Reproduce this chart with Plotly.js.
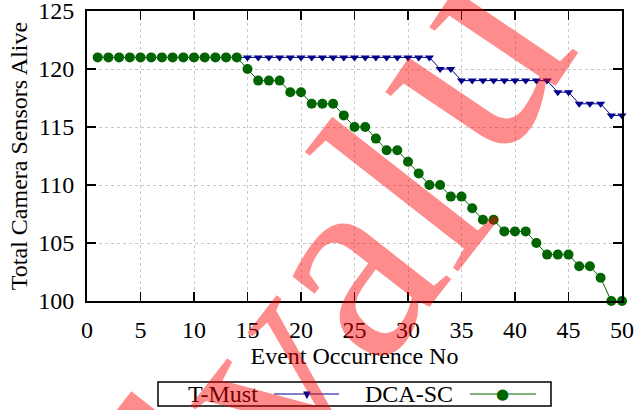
<!DOCTYPE html>
<html>
<head>
<meta charset="utf-8">
<script src="https://cdn.plot.ly/plotly-3.0.1.min.js"></script>
<style>
  html, body { margin: 0; padding: 0; background: #fff; }
  #chart { width: 639px; height: 410px; }
</style>
</head>
<body>
<div id="chart"></div>
<script>
// Event index (x) for both runs
const events = [1, 2, 3, 4, 5, 6, 7, 8, 9, 10,
                11, 12, 13, 14, 15, 16, 17, 18, 19, 20,
                21, 22, 23, 24, 25, 26, 27, 28, 29, 30,
                31, 32, 33, 34, 35, 36, 37, 38, 39, 40,
                41, 42, 43, 44, 45, 46, 47, 48, 49, 50];

// Camera sensors still alive after each event
const tMust = [121, 121, 121, 121, 121, 121, 121, 121, 121, 121,
               121, 121, 121, 121, 121, 121, 121, 121, 121, 121,
               121, 121, 121, 121, 121, 121, 121, 121, 121, 121,
               121, 121, 120, 120, 119, 119, 119, 119, 119, 119,
               119, 119, 119, 118, 118, 117, 117, 117, 116, 116];

const dcaSc = [121, 121, 121, 121, 121, 121, 121, 121, 121, 121,
               121, 121, 121, 121, 120, 119, 119, 119, 118, 118,
               117, 117, 117, 116, 115, 115, 114, 113, 113, 112,
               111, 110, 110, 109, 109, 108, 107, 107, 106, 106,
               106, 105, 104, 104, 104, 103, 103, 102, 100, 100];

const seriesNames = ['T-Must', 'DCA-SC'];
const xTicks = [0, 5, 10, 15, 20, 25, 30, 35, 40, 45, 50];
const yTicks = [100, 105, 110, 115, 120, 125];

const BLUE = '#00008b';
const GREEN = '#006400';
const SERIF = '"Liberation Serif", "Times New Roman", serif';

// plot box in page pixels
const L = 87, R = 622, T = 11, B = 301;
const px = x => (x - L) / (R - L);
const py = y => (B - y) / (B - T);

const traces = [
  {
    x: events, y: tMust, name: seriesNames[0],
    type: 'scatter', mode: 'lines+markers', cliponaxis: false,
    line: { color: BLUE, width: 1 },
    marker: { symbol: 'triangle-down', size: 8, color: BLUE },
    showlegend: false
  },
  {
    x: events, y: dcaSc, name: seriesNames[1],
    type: 'scatter', mode: 'lines+markers', cliponaxis: false,
    line: { color: GREEN, width: 1 },
    marker: { symbol: 'circle', size: 10, color: GREEN },
    showlegend: false
  }
];

// key box below the plot: label, then line sample with its marker
const keyY = 394;
const shapes = [
  { type: 'rect', xref: 'paper', yref: 'paper',
    x0: px(158), x1: px(551), y0: py(406), y1: py(382),
    line: { color: '#000', width: 1.5 }, fillcolor: 'rgba(0,0,0,0)' },
  { type: 'line', xref: 'paper', yref: 'paper',
    x0: px(274), x1: px(339), y0: py(keyY), y1: py(keyY),
    line: { color: BLUE, width: 1 } },
  { type: 'line', xref: 'paper', yref: 'paper',
    x0: px(470), x1: px(536), y0: py(keyY), y1: py(keyY),
    line: { color: GREEN, width: 1 } }
];

const annotations = [
  { text: seriesNames[0], xref: 'paper', yref: 'paper', x: px(260), y: py(keyY),
    xanchor: 'right', yanchor: 'middle', showarrow: false,
    font: { family: SERIF, size: 24, color: '#000' } },
  { text: seriesNames[1], xref: 'paper', yref: 'paper', x: px(455), y: py(keyY),
    xanchor: 'right', yanchor: 'middle', showarrow: false,
    font: { family: SERIF, size: 24, color: '#000' } },
  { text: '\u25BC', xref: 'paper', yref: 'paper', x: px(306.7), y: py(keyY),
    xanchor: 'center', yanchor: 'middle', showarrow: false,
    font: { family: 'DejaVu Sans', size: 10, color: BLUE } },
  { text: '\u25CF', xref: 'paper', yref: 'paper', x: px(502.7), y: py(keyY),
    xanchor: 'center', yanchor: 'middle', showarrow: false,
    font: { family: 'DejaVu Sans', size: 15, color: GREEN } }
];

// Diagonal stamp, laid out glyph by glyph along a slanted baseline;
// the tail of the word is pushed further up the slant.
const stamp = {
  word: 'Evaluation',
  advance: [0.611, 0.5, 0.444, 0.278, 0.5, 0.444, 0.278, 0.278, 0.5, 0.5], // em
  size: 280, angle: -52, centre: [485, 83],
  nudge: [[0, 0], [0, 0], [0, 0], [0, 0], [-15, -47],
          [50, -100], [50, -100], [50, -100], [50, -100], [50, -100]],
  grow: [1, 1, 1, 1, 1.07, 1, 1, 1, 1, 1],
  tilt: [0, 0, 0, 0, -4, 0, 0, 0, 0, 0]
};
(function addStamp() {
  const rad = stamp.angle * Math.PI / 180;
  const dx = Math.cos(rad), dy = Math.sin(rad);
  const total = stamp.advance.reduce((s, w) => s + w, 0);
  let run = 0;
  stamp.word.split('').forEach((ch, i) => {
    const mid = run + stamp.advance[i] / 2;
    run += stamp.advance[i];
    const off = (mid - total / 2) * stamp.size;
    const cx = stamp.centre[0] + off * dx + stamp.nudge[i][0];
    const cy = stamp.centre[1] + off * dy + stamp.nudge[i][1];
    if (cx < -250 || cx > 900 || cy < -250 || cy > 660) return;
    annotations.push({
      text: ch, xref: 'paper', yref: 'paper', x: px(cx), y: py(cy),
      xanchor: 'center', yanchor: 'middle', showarrow: false,
      textangle: stamp.angle + stamp.tilt[i],
      font: { family: SERIF, size: Math.round(stamp.size * stamp.grow[i]),
              color: 'rgba(255,0,0,0.45)' }
    });
  });
})();

const axisCommon = {
  showline: true, linecolor: '#000', linewidth: 2, mirror: 'ticks',
  ticks: 'inside', ticklen: 9, tickwidth: 1.5, tickcolor: '#000',
  showgrid: true, gridcolor: '#c8c8c8', griddash: 'dot', gridwidth: 1,
  zeroline: false, fixedrange: true, ticklabeloverflow: 'allow',
  tickfont: { family: SERIF, size: 24, color: '#000' }
};

const layout = {
  width: 639, height: 410,
  margin: { l: L, r: 639 - R, t: T, b: 410 - B, pad: 0 },
  paper_bgcolor: '#fff', plot_bgcolor: '#fff',
  showlegend: false,
  xaxis: Object.assign({}, axisCommon, {
    range: [0, 50], tickvals: xTicks, ticktext: xTicks.map(String),
    ticklabelstandoff: 6,
    title: { text: 'Event Occurrence No', standoff: 4,
             font: { family: SERIF, size: 24, color: '#000' } }
  }),
  yaxis: Object.assign({}, axisCommon, {
    range: [100, 125], tickvals: yTicks, ticktext: yTicks.map(String),
    ticklabelstandoff: 6,
    title: { text: 'Total Camera Sensors Alive', standoff: 4,
             font: { family: SERIF, size: 24, color: '#000' } }
  }),
  shapes: shapes,
  annotations: annotations
};

Plotly.newPlot('chart', traces, layout, { staticPlot: true, displayModeBar: false });
</script>
</body>
</html>
